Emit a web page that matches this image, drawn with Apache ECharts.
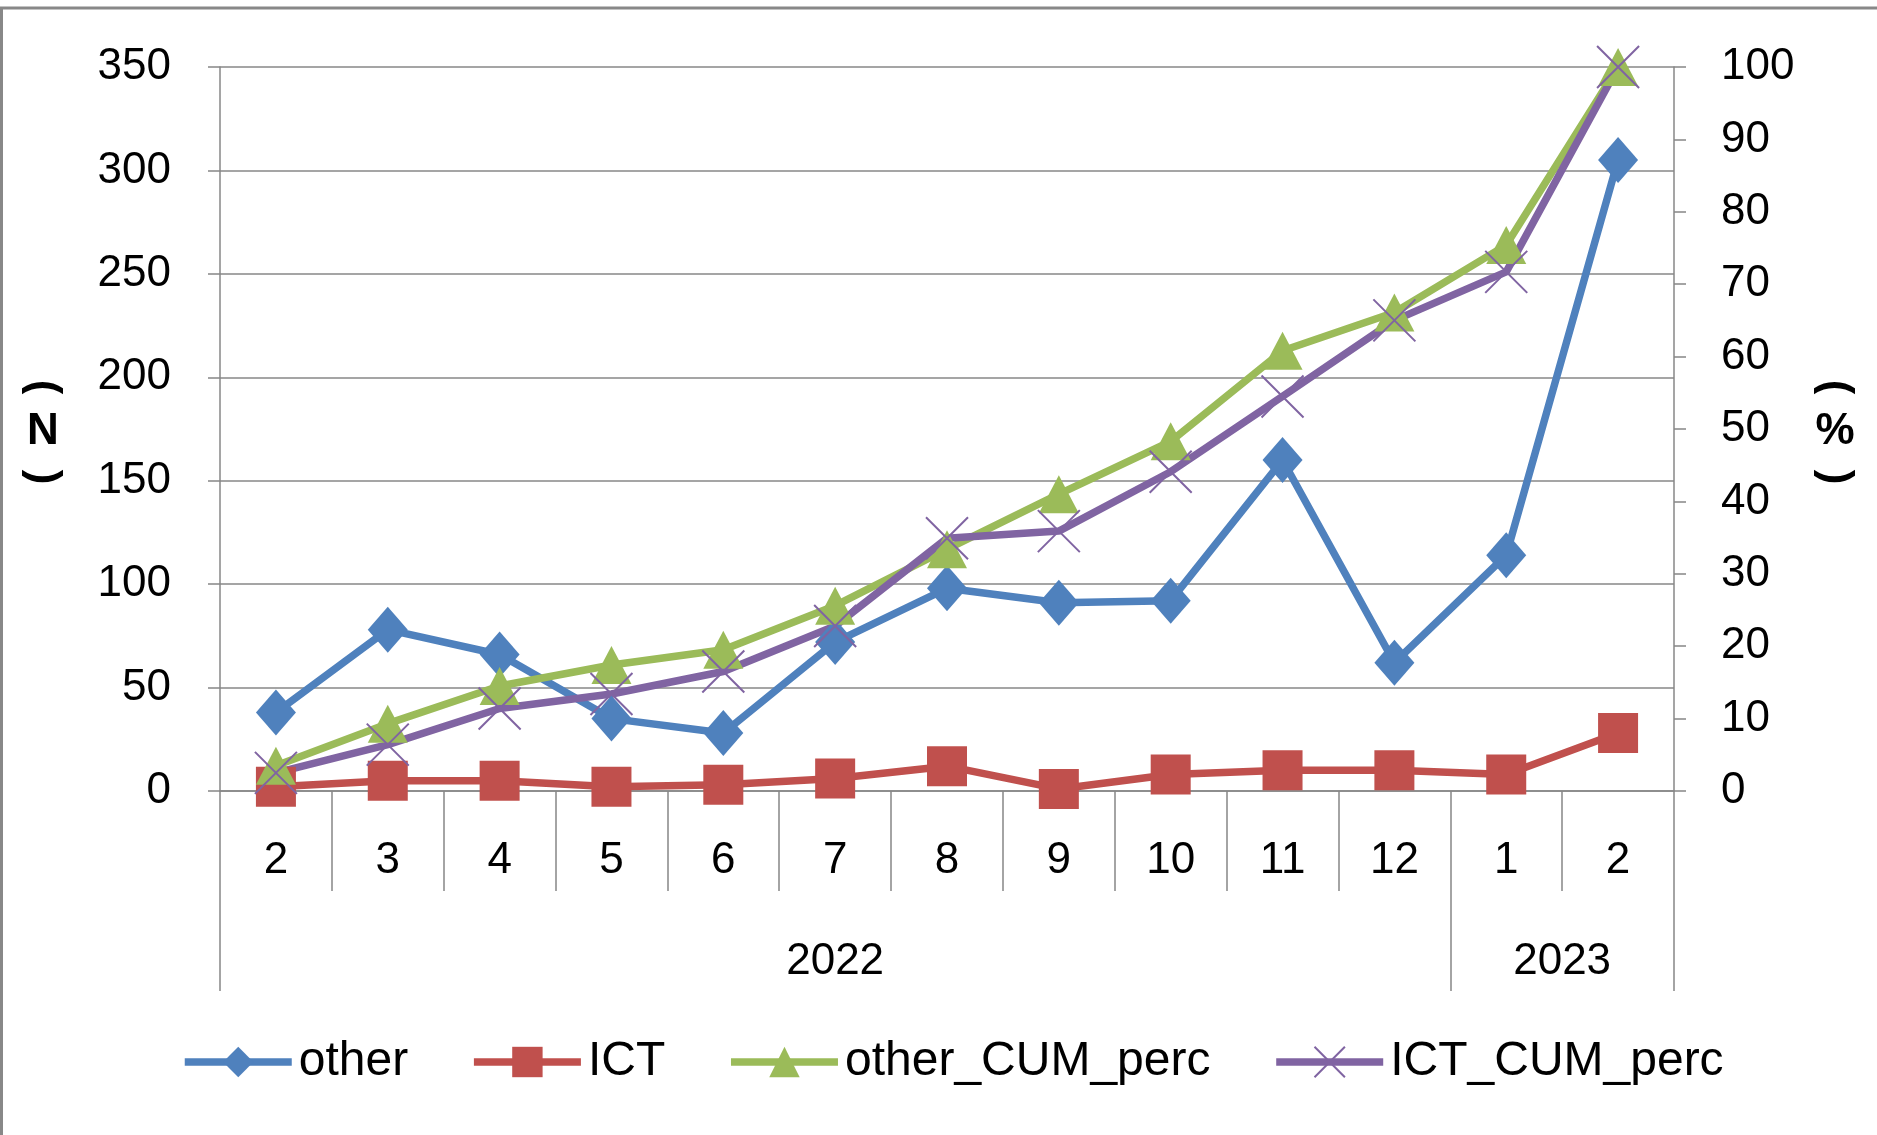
<!DOCTYPE html>
<html>
<head>
<meta charset="utf-8">
<script src="https://cdn.jsdelivr.net/npm/echarts@6/dist/echarts.min.js"></script>
<style>
html, body { margin: 0; padding: 0; background: #fff; }
#chart { width: 1877px; height: 1135px; }
</style>
</head>
<body>
<div id="chart"></div>
<script>
// month categories (Feb 2022 .. Feb 2023)
const months = ['2', '3', '4', '5', '6', '7', '8', '9', '10', '11', '12', '1', '2']
const years = ['2022', '2023']
const yearSpans = [11, 2]

const leftTicks = [0, 350, 50]
const rightTicks = [0, 100, 10]

const other = [38, 78, 66, 35, 28, 72, 98, 91, 92, 160, 62, 114, 305]
const ict = [2, 5, 5, 2, 3, 6, 12, 1, 8, 10, 10, 8, 28]
const otherCumPerc = [3.5, 9.3, 14.5, 17.4, 19.5, 25.6, 33.4, 41, 48.3, 60.8, 66.1, 75.4, 100]
const ictCumPerc = [2.5, 6.4, 11.4, 13.4, 16.5, 22.8, 34.9, 35.9, 44.1, 54.5, 65, 71.7, 100]

const FONT = 'Liberation Sans'
const GRAY = '#878787'
const LINE_W = 7.5

// year group edges and centres, in category-band units
let yearEdges = [0]
yearSpans.forEach(s => { yearEdges.push(yearEdges[yearEdges.length - 1] + s) })
const yearCenters = yearSpans.map((s, i) => yearEdges[i] + s / 2)

const makeSeries = (name, data, color, symbol, size, yIdx, extra) => {
    return Object.assign({
        name: name,
        type: 'line',
        yAxisIndex: yIdx,
        data: data,
        symbol: symbol,
        symbolSize: size,
        showAllSymbol: true,
        lineStyle: { color: color, width: LINE_W },
        itemStyle: { color: color, borderWidth: 0 }
    }, extra || {})
}

// stacked axis title: brackets turned on their side, letter upright
const vertTitle = (x, y, mid) => ({
    type: 'group',
    x: x,
    y: y,
    children: [
        { type: 'text', y: -45, rotation: -Math.PI / 2,
          style: { text: '(', font: 'bold 44px ' + FONT, fill: '#000', align: 'center', verticalAlign: 'middle' } },
        { type: 'text', y: 0,
          style: { text: mid, font: 'bold 44px ' + FONT, fill: '#000', align: 'center', verticalAlign: 'middle' } },
        { type: 'text', y: 45, rotation: -Math.PI / 2,
          style: { text: ')', font: 'bold 44px ' + FONT, fill: '#000', align: 'center', verticalAlign: 'middle' } }
    ]
})

let myChart = echarts.init(document.getElementById('chart'))

let option = {
    animation: false,
    backgroundColor: '#fff',
    textStyle: { fontFamily: FONT },
    graphic: [
        { type: 'rect', shape: { x: 1.5, y: 8, width: 1950, height: 1250 },
          style: { fill: 'none', stroke: '#888', lineWidth: 3 } },
        vertTitle(43, 432, 'N'),
        vertTitle(1835, 432, '%')
    ],
    legend: {
        left: 176,
        top: 1033,
        itemWidth: 107,
        itemHeight: 38,
        itemGap: 62,
        lineStyle: { width: LINE_W },
        textStyle: { fontSize: 48, color: '#000', fontFamily: FONT, padding: [0, 0, 0, 2] },
        data: ['other', 'ICT', 'other_CUM_perc', 'ICT_CUM_perc']
    },
    grid: { left: 220, right: 203, top: 67, bottom: 344 },
    xAxis: [
        {
            type: 'category',
            data: months,
            boundaryGap: true,
            axisLine: { show: true, lineStyle: { color: GRAY, width: 1.5 } },
            axisTick: { show: true, length: 100, lineStyle: { color: GRAY, width: 1.5 } },
            axisLabel: { margin: 48, fontSize: 44, color: '#000', fontFamily: FONT },
            splitLine: { show: false }
        },
        {
            type: 'value',
            min: 0,
            max: months.length,
            position: 'bottom',
            axisLine: { show: false },
            axisTick: { show: true, length: 200, customValues: yearEdges, lineStyle: { color: GRAY, width: 1.5 } },
            axisLabel: {
                show: true,
                customValues: yearCenters,
                margin: 149,
                fontSize: 44,
                color: '#000',
                fontFamily: FONT,
                formatter: (v) => years[yearCenters.indexOf(v)]
            },
            splitLine: { show: false }
        }
    ],
    yAxis: [
        {
            type: 'value',
            min: leftTicks[0],
            max: leftTicks[1],
            interval: leftTicks[2],
            axisLine: { show: true, lineStyle: { color: GRAY, width: 1.5 } },
            axisTick: { show: true, length: 12, lineStyle: { color: GRAY, width: 1.5 } },
            axisLabel: { margin: 49, fontSize: 44, color: '#000', fontFamily: FONT },
            splitLine: { show: true, lineStyle: { color: GRAY, width: 1.5 } }
        },
        {
            type: 'value',
            position: 'right',
            min: rightTicks[0],
            max: rightTicks[1],
            interval: rightTicks[2],
            axisLine: { show: true, lineStyle: { color: GRAY, width: 1.5 } },
            axisTick: { show: true, length: 12, lineStyle: { color: GRAY, width: 1.5 } },
            axisLabel: { margin: 47, fontSize: 44, color: '#000', fontFamily: FONT },
            splitLine: { show: false }
        }
    ],
    series: [
        makeSeries('other', other, '#4F81BD', 'diamond', [40, 46], 0),
        makeSeries('ICT', ict, '#C0504D', 'rect', 40, 0),
        makeSeries('other_CUM_perc', otherCumPerc, '#9BBB59', 'triangle', [40, 38], 1),
        makeSeries('ICT_CUM_perc', ictCumPerc, '#8064A2', 'path://M0,0L10,10M10,0L0,10', 42, 1, {
            itemStyle: { color: 'none', borderColor: '#8064A2', borderWidth: 2 }
        })
    ]
}

myChart.setOption(option)
</script>
</body>
</html>
